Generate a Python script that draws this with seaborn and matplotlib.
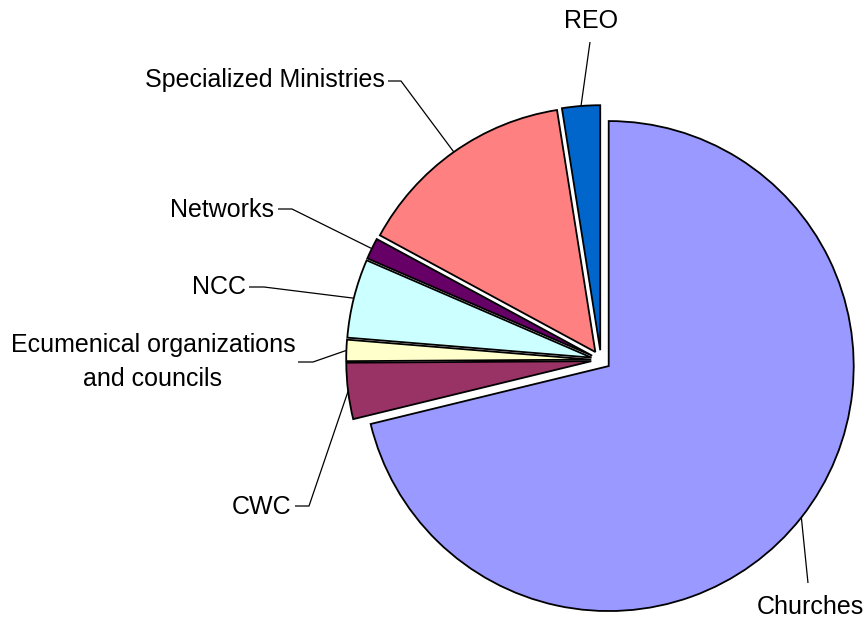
import numpy as np
import matplotlib
matplotlib.use("Agg")
import matplotlib.pyplot as plt
import seaborn as sns

# ---- data ----
categories = ["Churches", "CWC", "Ecumenical organizations\nand councils", "NCC",
              "Networks", "Specialized Ministries", "REO"]
shares = [71.2, 3.7, 1.4, 5.2, 1.4, 14.6, 2.5]
colors = ["#9999FF", "#993366", "#FFFFCC", "#CCFFFF", "#660066", "#FF8080", "#0066CC"]

sns.set_theme(style="white")
plt.rcParams["font.family"] = ["Liberation Sans", "DejaVu Sans"]

W, H = 867, 623
fig = plt.figure(figsize=(W / 100, H / 100), dpi=100)
ax = fig.add_axes([0, 0, 1, 1])

# pixel geometry of the pie
CX, CY, R = 601, 360, 245


def px(x, y):
    return ((x - CX) / R, (CY - y) / R)


wedges, _ = ax.pie(shares, colors=colors, startangle=90, counterclock=False,
                   explode=[0.04] * len(shares), radius=1,
                   wedgeprops=dict(edgecolor="black", linewidth=1.3))

x0, _ = px(0, 0)
x1, _ = px(W, 0)
_, y0 = px(0, H)
_, y1 = px(0, 0)
ax.set_xlim(x0, x1)
ax.set_ylim(y0, y1)
ax.set_aspect("auto")
ax.axis("off")

# label layout (pixels): text pos, ha, va, leader points (from text side)
layout = [
    ((810, 595), "center", "top", [(808, 583)]),            # Churches
    ((291, 507), "right", "center", [(295, 506), (309, 506)]),  # CWC
    ((153, 362), "center", "center", [(298, 362), (313, 362)]),  # Ecumenical
    ((246, 287), "right", "center", [(249, 287), (264, 287)]),  # NCC
    ((274, 210), "right", "center", [(278, 209), (292, 209)]),  # Networks
    ((385, 80), "right", "center", [(388, 81), (401, 81)]),     # Specialized
    ((591, 33), "center", "bottom", [(590, 42)]),               # REO
]

for w, name, (tpos, ha, va, pts) in zip(wedges, categories, layout):
    th = np.deg2rad((w.theta1 + w.theta2) / 2)
    ax_pt = (w.center[0] + w.r * np.cos(th), w.center[1] + w.r * np.sin(th))
    line = [px(*p) for p in pts] + [ax_pt]
    ax.plot([p[0] for p in line], [p[1] for p in line], color="black", lw=0.9,
            solid_capstyle="butt")
    tx, ty = px(*tpos)
    ax.text(tx, ty, name, ha=ha, va=va, fontsize=18, color="black",
            multialignment="center", linespacing=1.55)

fig.savefig("out.png", dpi=100, facecolor="white")
